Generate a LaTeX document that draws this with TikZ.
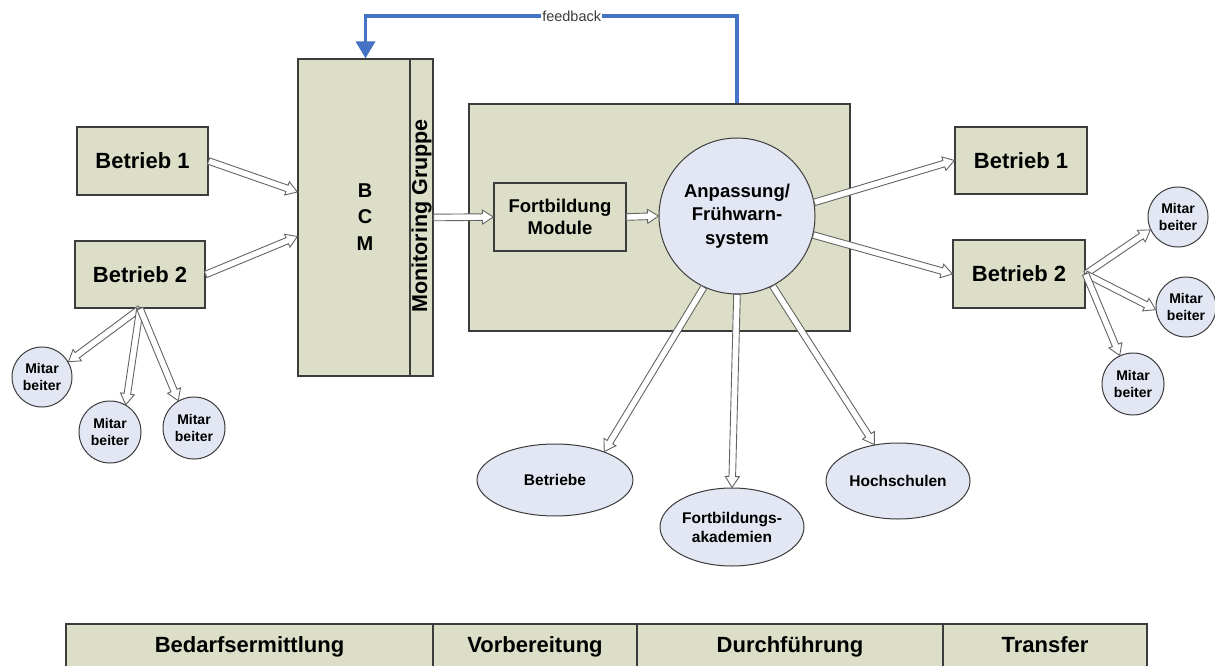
\documentclass[tikz,border=0pt]{standalone}
\usepackage{fontspec}
\setmainfont{Liberation Sans}
\usetikzlibrary{calc,shapes.geometric,arrows.meta}
\definecolor{boxfill}{RGB}{221,222,200}
\definecolor{circfill}{RGB}{226,231,243}
\definecolor{edgecol}{RGB}{60,60,60}
\definecolor{fbblue}{RGB}{68,114,196}
\definecolor{arrline}{RGB}{100,100,100}
\newcommand\BArr[2]{%
  \coordinate (ba) at (#1);
  \coordinate (bb) at (#2);
  \coordinate (bc) at ($(bb)!11pt!(ba)$);
  \draw[blkarr] ($(ba)!3.3pt!90:(bb)$) -- ($(bc)!3.3pt!90:(bb)$) -- ($(bc)!7pt!90:(bb)$) -- (bb) -- ($(bc)!7pt!-90:(bb)$) -- ($(bc)!3.3pt!-90:(bb)$) -- ($(ba)!3.3pt!-90:(bb)$) -- cycle;
}
\begin{document}
\begin{tikzpicture}[x=1pt,y=-1pt,
  gbox/.style={draw=edgecol, fill=boxfill, line width=1.2pt, inner sep=0pt},
  ccirc/.style={circle, draw=edgecol, fill=circfill, line width=1pt, inner sep=0pt, align=center},
  ell/.style={ellipse, draw=edgecol, fill=circfill, line width=1pt, inner sep=0pt, align=center},
  blkarr/.style={draw=arrline, fill=white, line width=0.9pt, line join=miter},
  bigtxt/.style={font=\fontsize{22}{26}\selectfont\bfseries},
  tabtxt/.style={font=\fontsize{22}{26}\selectfont\bfseries, text height=16pt, text depth=3pt},
  midtxt/.style={font=\fontsize{18.5}{22}\selectfont\bfseries, align=center},
  mitxt/.style={font=\fontsize{14}{17.5}\selectfont\bfseries},
  elltxt/.style={font=\fontsize{15.5}{19}\selectfont\bfseries},
  fb/.style={draw=fbblue, line width=3.5pt},
]
\useasboundingbox (0,0) rectangle (1215,666);
\fill[white] (0,0) rectangle (1215,666);

% BCM block
\node[gbox, minimum width=135pt, minimum height=317pt] (bcm) at (365.5,217.5) {};
\node[gbox, minimum width=23pt, minimum height=317pt] (mg) at (421.5,217.5) {};
\node[rotate=90, font=\fontsize{21.5}{24}\selectfont\bfseries] (mgtext) at (421.5,216) {Monitoring Gruppe};
\node[font=\fontsize{20}{26.5}\selectfont\bfseries, align=center] (bcmtext) at (365,217) {B\\C\\M};

% left Betriebe
\node[gbox, minimum width=131pt, minimum height=68pt, bigtxt] (b1L) at (142.5,161) {Betrieb 1};
\node[gbox, minimum width=130pt, minimum height=67pt, bigtxt] (b2L) at (140,274.5) {Betrieb 2};

% left Mitarbeiter
\node[ccirc, minimum size=60pt, mitxt] (mL1) at (42,377) {Mitar\\beiter};
\node[ccirc, minimum size=62pt, mitxt] (mL2) at (110,432) {Mitar\\beiter};
\node[ccirc, minimum size=62pt, mitxt] (mL3) at (194,428) {Mitar\\beiter};

% central area
\node[gbox, minimum width=381pt, minimum height=227pt] (bigbox) at (659.5,217.5) {};
\node[gbox, minimum width=132pt, minimum height=68pt, midtxt] (fm) at (560,217) {Fortbildung\\Module};
\node[ccirc, minimum size=156pt, font=\fontsize{18.5}{23.5}\selectfont\bfseries] (circ) at (737,216) {Anpassung/\\Frühwarn-\\system};

% right Betriebe
\node[gbox, minimum width=132pt, minimum height=67pt, bigtxt] (b1R) at (1021,160.5) {Betrieb 1};
\node[gbox, minimum width=132pt, minimum height=68pt, bigtxt] (b2R) at (1019,274) {Betrieb 2};

% right Mitarbeiter
\node[ccirc, minimum size=60pt, mitxt] (mR1) at (1178,217) {Mitar\\beiter};
\node[ccirc, minimum size=60pt, mitxt] (mR2) at (1186,307) {Mitar\\beiter};
\node[ccirc, minimum size=62pt, mitxt] (mR3) at (1133,384) {Mitar\\beiter};

% ellipses
\node[ell, minimum width=156pt, minimum height=72pt, elltxt] (betr) at (555,480) {Betriebe};
\node[ell, minimum width=144pt, minimum height=78pt, elltxt] (fakad) at (732,527) {Fortbildungs-\\akademien};
\node[ell, minimum width=144pt, minimum height=76pt, elltxt] (hoch) at (898,481) {Hochschulen};

% table
\node[gbox, minimum width=367pt, minimum height=44pt, tabtxt] (t1) at (249.5,646) {Bedarfsermittlung};
\node[gbox, minimum width=204pt, minimum height=44pt, tabtxt] (t2) at (535,646) {Vorbereitung};
\node[gbox, minimum width=306pt, minimum height=44pt, tabtxt] (t3) at (790,646) {Durchführung};
\node[gbox, minimum width=204pt, minimum height=44pt, tabtxt] (t4) at (1045,646) {Transfer};

% block arrows
\BArr{b1L.east}{$(bcm.west)+(0,-25.5)$}
\BArr{b2L.east}{$(bcm.west)+(0,19)$}
\BArr{b2L.south}{mL1.30}
\BArr{b2L.south}{mL2.60}
\BArr{b2L.south}{mL3.120}
\BArr{mg.east}{fm.west}
\BArr{fm.east}{circ.west}
\BArr{circ.10}{b1R.west}
\BArr{circ.-14}{b2R.west}
\BArr{b2R.east}{mR1.205}
\BArr{b2R.east}{mR2.185}
\BArr{b2R.east}{mR3.115}
\BArr{circ.245}{betr.30}
\BArr{circ.south}{fakad.north}
\BArr{circ.-63}{hoch.123}

% feedback
\coordinate (fbc) at (0,16);
\draw[fb, -{Triangle[width=19pt,length=17pt]}] (circ |- bigbox.north) -- (circ |- fbc) -- node[pos=0.445, fill=white, inner sep=1pt, text=edgecol, font=\fontsize{14.5}{16}\selectfont] (fblabel) {feedback} (bcm |- fbc) -- (bcm.north);
\end{tikzpicture}
\end{document}
